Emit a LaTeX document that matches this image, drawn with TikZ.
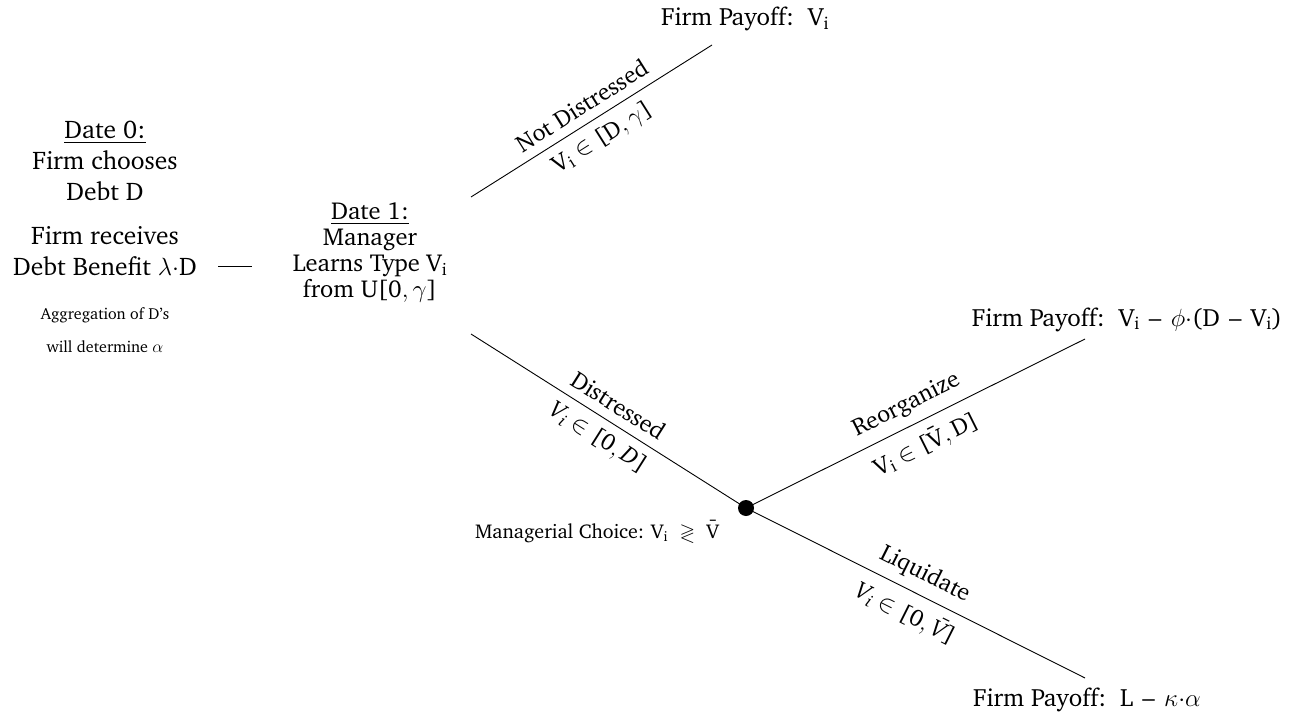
\documentclass[tikz,border=0pt]{standalone}
\usepackage{amsmath,amssymb}
\IfFileExists{charter.sty}
  {\usepackage[T1]{fontenc}\usepackage{charter}
   \DeclareSymbolFont{operators}{T1}{bch}{m}{n}}
  {\usepackage{fontspec}\setmainfont{Liberation Serif}}
% upright and italic variables set in the text face
\newcommand{\uVi}{\text{V}_{\text{i}}}
\newcommand{\uVb}{\text{\=V}}
\newcommand{\uD}{\text{D}}
\newcommand{\iVi}{\textit{V}_{\textit{i}}}
\newcommand{\iVb}{\textit{\=V}}
\newcommand{\dminus}{\mathbin{\hspace{0.15em}\text{--}\hspace{0.15em}}}
\begin{document}
\begin{tikzpicture}[x=1pt,y=-1pt,
  txt/.style={align=center, font=\fontsize{25.5}{31}\selectfont, inner sep=0pt},
  small/.style={align=center, font=\fontsize{16}{33}\selectfont, inner sep=0pt},
  payoff/.style={font=\fontsize{25}{29}\selectfont, inner sep=0pt, anchor=base},
  branch/.style={line width=0.9pt},
  lab/.style={sloped, pos=0.5, font=\fontsize{24}{29}\selectfont, inner sep=9pt},
  decision/.style={circle, fill=black, minimum size=16pt, inner sep=0pt}]
\useasboundingbox (0,0) rectangle (1309,717);

% date 0
\node[txt] (d0) at (105,161) {\underline{Date 0:}\\Firm chooses\\Debt D};
\node[txt] (ben) at (105,251) {Firm receives\\Debt Benefit $\lambda{\cdot}\uD$};
\node[small] (agg) at (105,330) {Aggregation of D's\\will determine $\alpha$};

% date 1
\node[txt, font=\fontsize{24.5}{26}\selectfont] (d1) at (370,253)
  {\underline{Date 1:}\\Manager\\Learns Type $\uVi$\\from U$[0,\gamma]$};

\coordinate (c0) at (218,266);
\coordinate (c1) at (252,266);
\draw[branch] (c0) -- (c1);

% branch ends
\coordinate (up0) at (471,197);
\coordinate (up1) at (712,45);
\coordinate (dn0) at (471,334);
\node[decision] (ch) at (746,508) {};
\coordinate (re1) at (1085,339);
\coordinate (li1) at (1085,678);

\node[payoff] (p1) at (745,26) {Firm Payoff:\ \ $\uVi$};
\node[payoff] (p2) at (1127,326) {Firm Payoff:\ \ $\uVi\dminus\phi{\cdot}(\uD\dminus\uVi)$};
\node[payoff] (p3) at (1087,706) {Firm Payoff:\ \ $\text{L}\dminus\kappa{\cdot}\alpha$};
\node[font=\fontsize{20}{22}\selectfont, inner sep=0pt, anchor=base] (mc) at (597,538)
  {Managerial Choice: $\uVi\;\gtrless\;\uVb$};

\draw[branch] (up0) -- node[lab, above] {Not Distressed}
  node[lab, below] {$\uVi\in[\uD,\gamma]$} (up1);
\draw[branch] (dn0) -- node[lab, above] {Distressed}
  node[lab, below] {$\iVi\in[0,\textit{D}]$} (ch.center);
\draw[branch] (ch.center) -- node[lab, above] {Reorganize}
  node[lab, below] {$\uVi\in[\uVb,\uD]$} (re1);
\draw[branch] (ch.center) -- node[lab, above] {Liquidate}
  node[lab, below] {$\iVi\in[0,\iVb]$} (li1);
\end{tikzpicture}
\end{document}
